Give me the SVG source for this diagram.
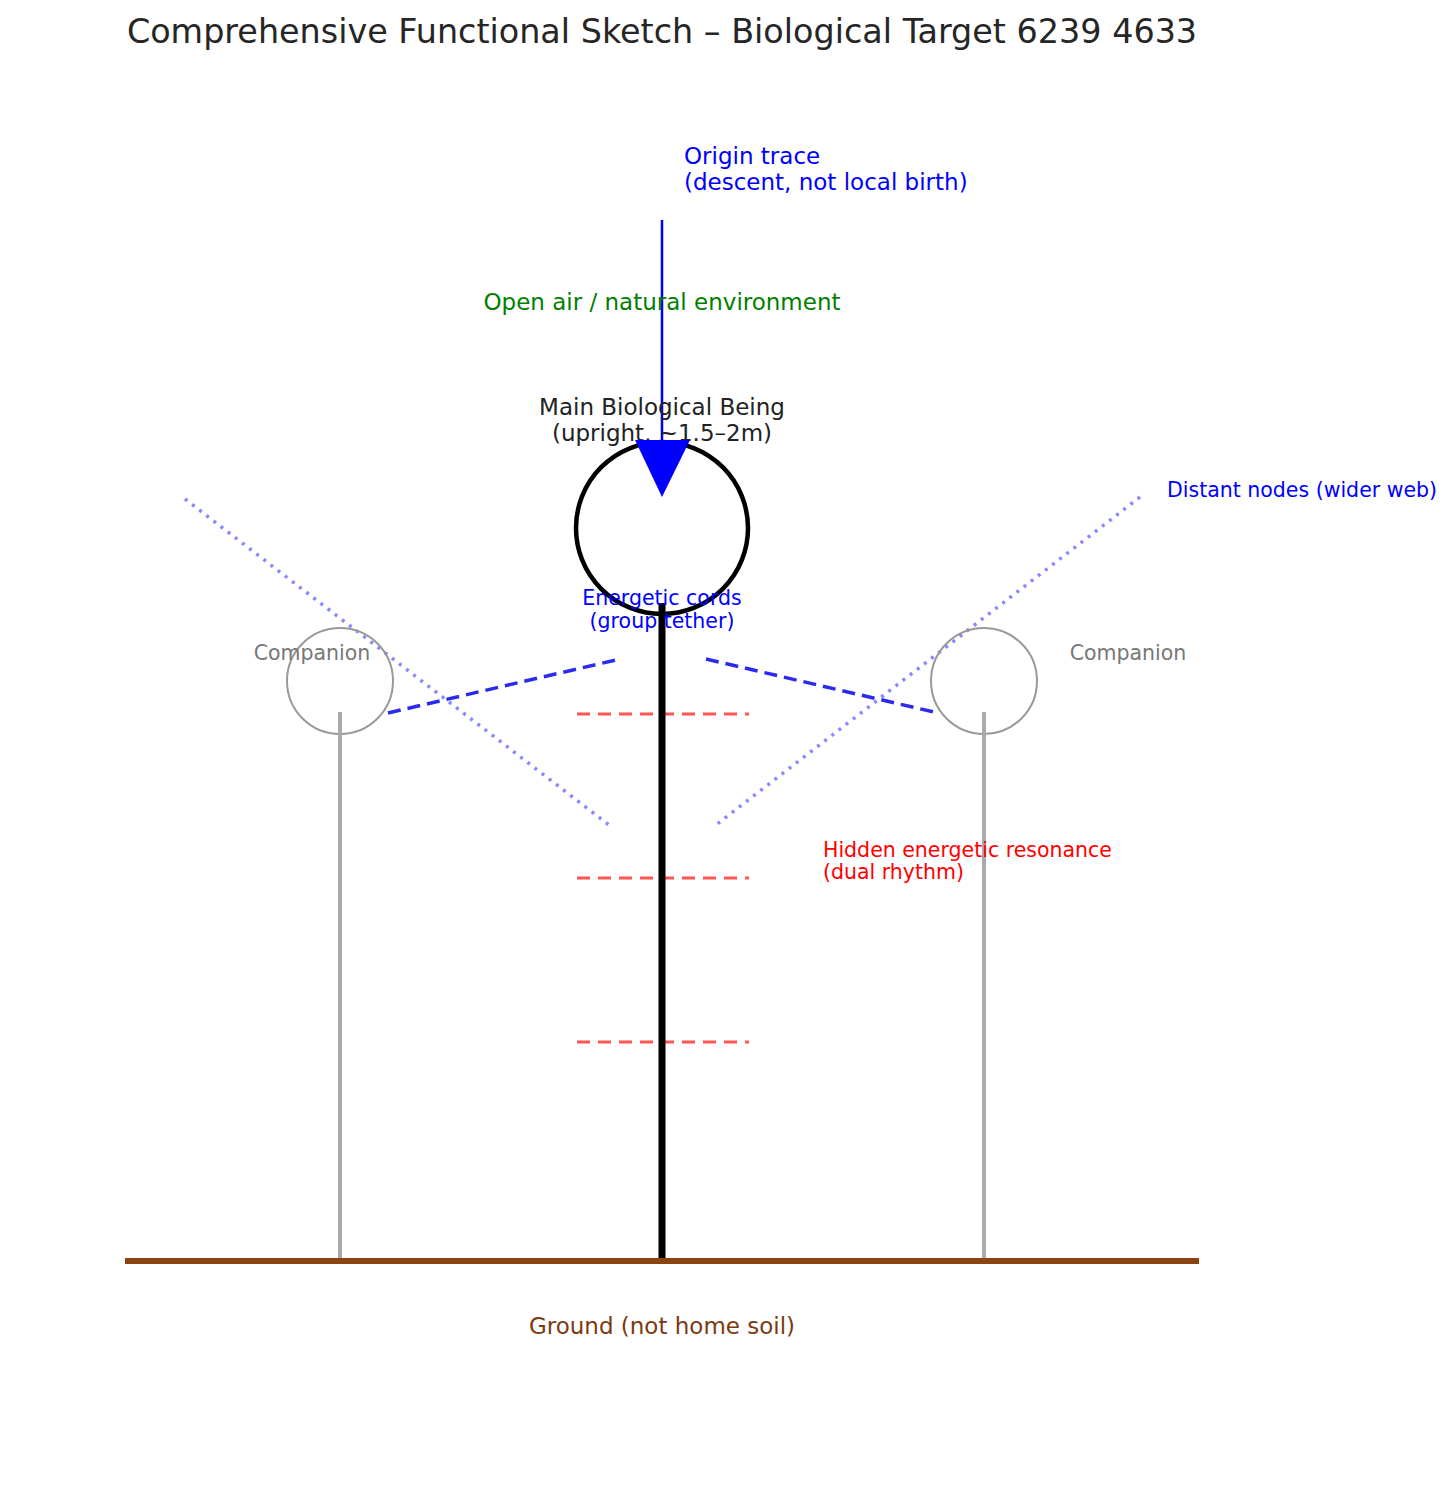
<svg xmlns="http://www.w3.org/2000/svg" width="1456" height="1498" viewBox="0 0 1456 1498">
<style>
text{font-family:"DejaVu Sans",sans-serif}
.comp{fill:#777;font-size:20.5px}
.cord{stroke:#2a2af0;stroke-width:3.5;stroke-dasharray:13,7;fill:none}
.res{stroke:#f55;stroke-width:3;stroke-dasharray:13,8}
.web{stroke:#8888ff;stroke-width:3.5;stroke-dasharray:3,6}
</style>
<rect width="1456" height="1498" fill="#fff"/>
<text x="662" y="43" text-anchor="middle" font-size="33.4" fill="#262626">Comprehensive Functional Sketch – Biological Target 6239 4633</text>
<g id="connectors">
<line x1="662" y1="220" x2="662" y2="442" stroke="#0000ff" stroke-width="2.5"/>
<line class="web" x1="185" y1="499" x2="609" y2="825"/>
<line class="web" x1="1140" y1="497" x2="716" y2="825"/>
<line class="cord" x1="388" y1="713" x2="620" y2="659"/>
<line class="cord" x1="706" y1="659" x2="938" y2="713"/>
<line class="res" x1="577" y1="714" x2="749" y2="714"/>
<line class="res" x1="577" y1="878" x2="749" y2="878"/>
<line class="res" x1="577" y1="1042" x2="749" y2="1042"/>
</g>
<g id="ground"><line x1="125" y1="1261" x2="1199" y2="1261" stroke="#8B4513" stroke-width="6"/>
<text x="662" y="1334" text-anchor="middle" font-size="23" fill="#7a3a10">Ground (not home soil)</text></g>
<g id="companion-left"><circle cx="340" cy="681" r="53" fill="none" stroke="#999" stroke-width="2"/><line x1="340" y1="712" x2="340" y2="1258" stroke="#aaa" stroke-width="4"/><text class="comp" x="312" y="660" text-anchor="middle">Companion</text></g>
<g id="companion-right"><circle cx="984" cy="681" r="53" fill="none" stroke="#999" stroke-width="2"/><line x1="984" y1="712" x2="984" y2="1258" stroke="#aaa" stroke-width="4"/><text class="comp" x="1128" y="660" text-anchor="middle">Companion</text></g>
<g id="main"><circle cx="662" cy="528" r="86" fill="none" stroke="#000" stroke-width="4.5"/><line x1="662" y1="603" x2="662" y2="1258" stroke="#000" stroke-width="7"/>
<text x="662" y="415" text-anchor="middle" font-size="23" fill="#222">Main Biological Being</text>
<text x="662" y="441" text-anchor="middle" font-size="23" fill="#222">(upright, ~1.5–2m)</text></g>
<polygon points="635,440 690,440 662,497" fill="#0000ff"/>
<text x="684" y="164" font-size="23" fill="#0000ff">Origin trace</text>
<text x="684" y="190" font-size="23" fill="#0000ff">(descent, not local birth)</text>
<text x="662" y="310" text-anchor="middle" font-size="23" fill="#008000">Open air / natural environment</text>
<text x="1167" y="497" font-size="20.5" fill="#0000ff">Distant nodes (wider web)</text>
<text x="662" y="605" text-anchor="middle" font-size="20.5" fill="#0000ff">Energetic cords</text>
<text x="662" y="628" text-anchor="middle" font-size="20.5" fill="#0000ff">(group tether)</text>
<text x="823" y="857" font-size="20.5" fill="#ff0000">Hidden energetic resonance</text>
<text x="823" y="879" font-size="20.5" fill="#ff0000">(dual rhythm)</text>
</svg>
